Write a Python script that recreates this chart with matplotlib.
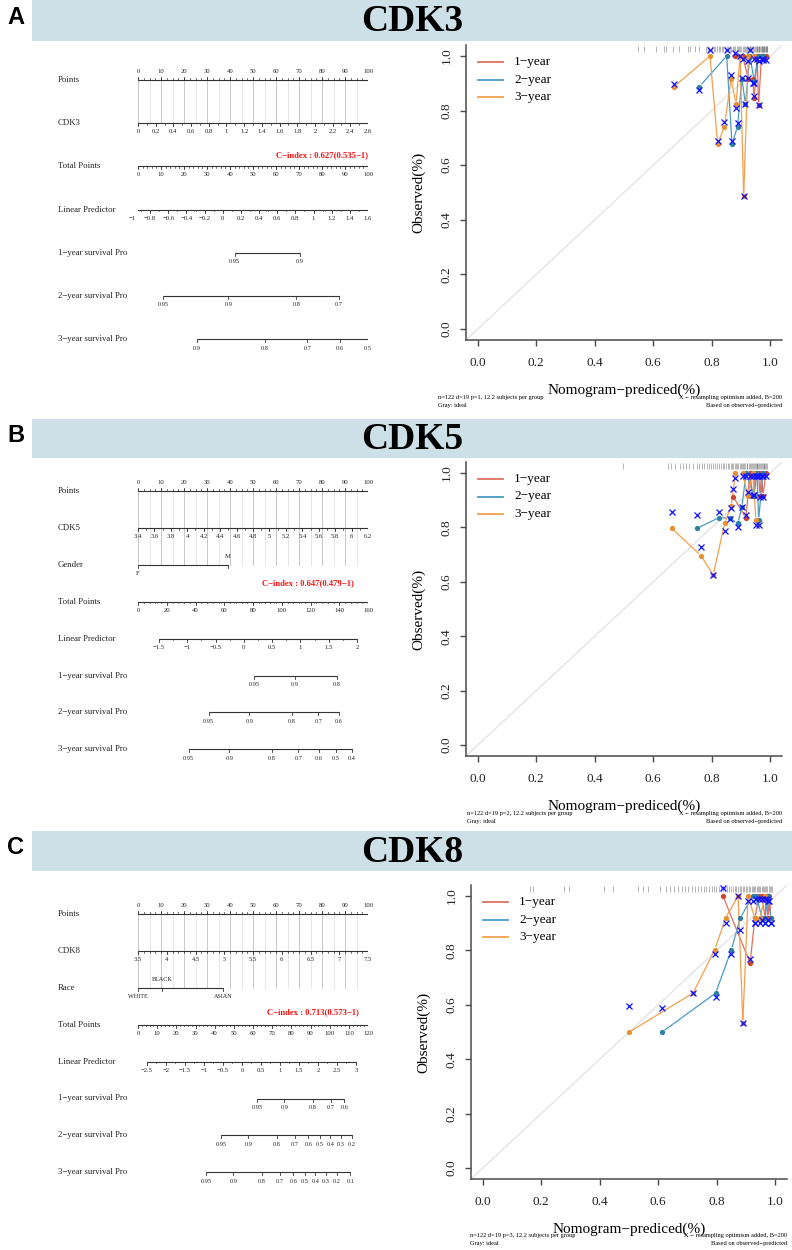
import numpy as np
import matplotlib.pyplot as plt
from matplotlib.lines import Line2D
from matplotlib.patches import Rectangle
from matplotlib.transforms import blended_transform_factory

plt.rcParams['font.family'] = ['Liberation Serif', 'DejaVu Serif']

W, H = 792, 1250
MINUS = '\u2212'

# ---------------- nomogram data ----------------
panel_letters = ['A', 'B', 'C']
genes = ['CDK3', 'CDK5', 'CDK8']
gene_range = [(0.0, 2.6), (3.4, 6.2), (3.5, 7.5)]
gene_label_step = [0.2, 0.2, 0.5]
gene_minor_step = [0.1, 0.1, 0.1]
c_index = ['C\u2212index : 0.627(0.535\u22121)',
           'C\u2212index : 0.647(0.479\u22121)',
           'C\u2212index : 0.713(0.573\u22121)']

gender_levels = ['F', 'M']
gender_points = [0.0, 39.1]
race_levels = ['WHITE', 'BLACK', 'ASIAN']
race_points = [0.0, 10.4, 37.0]

total_max = [100, 160, 120]
total_label_step = [10, 20, 10]
total_minor_step = [2, 4, 2]
# linear predictor at 0 and at max total points
lp_span = [(-0.934, 1.600), (-1.871, 2.196), (-2.737, 3.318)]
lp_lims = [(-1.0, 1.6), (-1.5, 2.0), (-2.5, 3.0)]
lp_label_step = [0.2, 0.5, 0.5]
lp_minor_step = [0.1, 0.25, 0.25]
# baseline survival for 1, 2, 3 years
base_surv = [(0.956, 0.9056, 0.869), (0.958, 0.909, 0.873), (0.966, 0.9147, 0.876)]
surv_ticks = [
    ([0.95, 0.9], [0.95, 0.9, 0.8, 0.7], [0.9, 0.8, 0.7, 0.6, 0.5]),
    ([0.95, 0.9, 0.8], [0.95, 0.9, 0.8, 0.7, 0.6], [0.95, 0.9, 0.8, 0.7, 0.6, 0.5, 0.4]),
    ([0.95, 0.9, 0.8, 0.7, 0.6], [0.95, 0.9, 0.8, 0.7, 0.6, 0.5, 0.4, 0.3, 0.2],
     [0.95, 0.9, 0.8, 0.7, 0.6, 0.5, 0.4, 0.3, 0.2, 0.1]),
]
years = ['1\u2212year', '2\u2212year', '3\u2212year']

# ---------------- calibration data ----------------
# per panel: (pred, observed, bias corrected) for 1, 2, 3 years
calA = [
    ([0.880, 0.905, 0.925, 0.940, 0.945, 0.955, 0.960, 0.970, 0.975, 0.985],
     [1.000, 1.000, 0.916, 0.916, 0.845, 1.000, 0.820, 1.000, 1.000, 1.000],
     [1.010, 0.990, 0.920, 0.900, 0.855, 0.990, 0.820, 0.990, 0.985, 0.985]),
    ([0.758, 0.851, 0.869, 0.888, 0.903, 0.915, 0.930, 0.945, 0.960, 0.975],
     [0.888, 1.000, 0.678, 0.741, 0.916, 0.824, 1.000, 0.910, 1.000, 1.000],
     [0.875, 1.020, 0.690, 0.755, 0.920, 0.824, 1.020, 0.900, 0.980, 0.990]),
    ([0.672, 0.794, 0.820, 0.843, 0.866, 0.883, 0.897, 0.909, 0.925, 0.945],
     [0.888, 1.000, 0.678, 0.741, 0.916, 0.824, 1.000, 0.487, 1.000, 1.000],
     [0.897, 1.020, 0.690, 0.758, 0.930, 0.810, 1.000, 0.487, 0.980, 0.990]),
]
calB = [
    ([0.874, 0.917, 0.930, 0.940, 0.950, 0.960, 0.965, 0.970, 0.975, 0.985],
     [0.911, 0.834, 1.000, 0.916, 1.000, 1.000, 0.916, 1.000, 0.916, 1.000],
     [0.940, 0.846, 0.990, 0.920, 0.990, 0.990, 0.910, 0.990, 0.910, 0.990]),
    ([0.749, 0.826, 0.861, 0.889, 0.903, 0.917, 0.944, 0.955, 0.960, 0.975],
     [0.796, 0.836, 0.833, 0.815, 0.874, 1.000, 0.916, 1.000, 0.828, 1.000],
     [0.846, 0.857, 0.830, 0.800, 0.874, 0.990, 0.920, 0.990, 0.810, 0.990]),
    ([0.664, 0.763, 0.805, 0.844, 0.866, 0.881, 0.905, 0.923, 0.940, 0.951],
     [0.796, 0.696, 0.625, 0.815, 0.877, 1.000, 1.000, 0.916, 1.000, 0.828],
     [0.857, 0.726, 0.625, 0.785, 0.870, 0.980, 0.990, 0.930, 0.990, 0.810]),
]
calC = [
    ([0.821, 0.914, 0.930, 0.945, 0.955, 0.965, 0.970, 0.975, 0.980, 0.985],
     [1.000, 0.753, 0.918, 1.000, 1.000, 0.918, 1.000, 0.918, 1.000, 0.918],
     [1.030, 0.768, 0.900, 0.990, 0.990, 0.900, 0.990, 0.910, 0.980, 0.900]),
    ([0.613, 0.796, 0.850, 0.880, 0.923, 0.935, 0.955, 0.965, 0.975, 0.985],
     [0.500, 0.643, 0.802, 0.918, 1.000, 1.000, 0.918, 0.918, 1.000, 0.918],
     [0.589, 0.630, 0.788, 0.875, 0.980, 0.990, 0.910, 0.900, 0.980, 0.900]),
    ([0.501, 0.719, 0.793, 0.830, 0.873, 0.889, 0.907, 0.930, 0.947, 0.966],
     [0.500, 0.643, 0.802, 0.918, 1.000, 0.534, 1.000, 0.918, 0.918, 1.000],
     [0.595, 0.643, 0.788, 0.900, 1.000, 0.534, 0.980, 0.900, 0.900, 0.990]),
]
rugA = [0.547, 0.570, 0.610, 0.638, 0.645, 0.667, 0.689, 0.718, 0.724, 0.741, 0.758,
        0.780, 0.786, 0.792, 0.800, 0.806, 0.812, 0.818, 0.823, 0.829, 0.835, 0.840,
        0.846, 0.851, 0.856, 0.861, 0.866, 0.871, 0.876, 0.880, 0.885, 0.889, 0.893,
        0.897, 0.901, 0.905, 0.909, 0.912, 0.916, 0.919, 0.923, 0.926, 0.929, 0.932,
        0.935, 0.938, 0.941, 0.944, 0.947, 0.950, 0.953, 0.955, 0.958, 0.960, 0.963,
        0.965, 0.968, 0.970, 0.972, 0.974, 0.976, 0.978, 0.980, 0.982, 0.984, 0.986,
        0.988, 0.990]
rugB = [0.496, 0.650, 0.662, 0.675, 0.690, 0.700, 0.712, 0.722, 0.735, 0.748, 0.757,
        0.766, 0.775, 0.782, 0.790, 0.797, 0.804, 0.811, 0.818, 0.825, 0.831, 0.837,
        0.843, 0.849, 0.854, 0.859, 0.864, 0.869, 0.874, 0.879, 0.883, 0.887, 0.891,
        0.895, 0.899, 0.903, 0.907, 0.911, 0.915, 0.919, 0.922, 0.926, 0.930, 0.933,
        0.937, 0.940, 0.944, 0.947, 0.950, 0.953, 0.956, 0.959, 0.962, 0.965, 0.968,
        0.971, 0.974, 0.977, 0.980, 0.983, 0.986, 0.989]
rugC = [0.163, 0.172, 0.277, 0.294, 0.413, 0.447, 0.532, 0.549, 0.566, 0.605, 0.625,
        0.640, 0.655, 0.668, 0.680, 0.692, 0.703, 0.714, 0.725, 0.735, 0.745, 0.755,
        0.764, 0.773, 0.782, 0.790, 0.798, 0.806, 0.814, 0.821, 0.828, 0.835, 0.842,
        0.849, 0.855, 0.861, 0.867, 0.873, 0.879, 0.884, 0.889, 0.894, 0.899, 0.904,
        0.909, 0.914, 0.919, 0.923, 0.928, 0.932, 0.937, 0.941, 0.945, 0.949, 0.953,
        0.957, 0.961, 0.965, 0.969, 0.973, 0.977, 0.981, 0.985, 0.989]
n_text = ['n=122 d=19 p=1, 12.2 subjects per group',
          'n=122 d=19 p=2, 12.2 subjects per group',
          'n=122 d=19 p=3, 12.2 subjects per group']

line_cols = ['#E0705E', '#4A9CC4', '#F2A04E']
dot_cols = ['#C9452F', '#2F7FA3', '#E8902F']

fig = plt.figure(figsize=(W / 100, H / 100), dpi=100)


def fx(x):
    return x / W


def fy(y):
    return 1 - y / H


def axes_px(x0, y0, x1, y1):
    return fig.add_axes([fx(x0), fy(y1), (x1 - x0) / W, (y1 - y0) / H])


def fmt(v):
    return f'{round(v, 4):g}'.replace('-', MINUS)


def frange(lo, hi, step):
    n = int(round((hi - lo) / step))
    return [lo + i * step for i in range(n + 1)]


def scale_row(ax, y, pos, labels, minor=(), up=False, fs=4.8, off=8.5, lab_up=None):
    col = '#333333'
    ax.plot([min(pos), max(pos)], [y, y], color=col, lw=0.8, solid_capstyle='butt')
    d = -1 if up else 1
    for p in pos:
        ax.plot([p, p], [y, y + 3 * d], color=col, lw=0.6)
    for p in minor:
        ax.plot([p, p], [y, y + 1.6 * d], color=col, lw=0.5)
    for i, (p, lab) in enumerate(zip(pos, labels)):
        dd = d
        if lab_up is not None:
            dd = -1 if lab_up[i] else 1
        ax.text(p, y + off * dd, lab, ha='center', va='center', fontsize=fs, color='#222222')


def header(top, bottom, letter, title):
    fig.add_artist(Rectangle((fx(32), fy(bottom)), (792 - 32) / W, (bottom - top) / H,
                             transform=fig.transFigure, color='#CDE0E7', lw=0))
    fig.text(fx(16), fy((top + bottom) / 2 - 3), letter, ha='center', va='center',
             fontsize=17, fontweight='bold', family=['Liberation Sans', 'DejaVu Sans'])
    fig.text(fx(412), fy((top + bottom) / 2 + 1), title, ha='center', va='center',
             fontsize=27, fontweight='bold')


def nomogram(k, top, step, extra, cidx_xy):
    rows = ['Points', genes[k]] + extra + ['Total Points', 'Linear Predictor',
                                          '1\u2212year survival Pro', '2\u2212year survival Pro',
                                          '3\u2212year survival Pro']
    ys = [top + i * step for i in range(len(rows))]
    ax = axes_px(138, top - 25, 368, ys[-1] + 25)
    ax.set_xlim(0, 100)
    ax.set_ylim(ys[-1] + 25, top - 25)
    ax.axis('off')
    tr = blended_transform_factory(fig.transFigure, ax.transData)
    for name, y in zip(rows, ys):
        ax.text(fx(58), y, name, transform=tr, ha='left', va='center', fontsize=6.3,
                color='#222222')

    # grid from Points down to last predictor row
    g_bottom = ys[1 + len(extra)]
    for p in frange(0, 100, 5):
        c = '#C8C8C8' if p % 10 == 0 else '#E6E6E6'
        ax.plot([p, p], [ys[0], g_bottom], color=c, lw=0.7, zorder=0)

    # Points
    scale_row(ax, ys[0], frange(0, 100, 10), [fmt(v) for v in frange(0, 100, 10)],
              minor=frange(0, 100, 2.5), up=True)
    # gene
    lo, hi = gene_range[k]
    gv = frange(lo, hi, gene_label_step[k])
    gm = frange(lo, hi, gene_minor_step[k])
    scale_row(ax, ys[1], [(v - lo) / (hi - lo) * 100 for v in gv], [fmt(v) for v in gv],
              minor=[(v - lo) / (hi - lo) * 100 for v in gm])
    # categorical rows
    if k == 1:
        scale_row(ax, ys[2], gender_points, gender_levels, lab_up=[False, True])
    if k == 2:
        scale_row(ax, ys[2], race_points, race_levels, lab_up=[False, True, False], fs=4.4)
    r = 2 + len(extra)
    # total points
    tm = total_max[k]
    tv = frange(0, tm, total_label_step[k])
    scale_row(ax, ys[r], [v / tm * 100 for v in tv], [fmt(v) for v in tv],
              minor=[v / tm * 100 for v in frange(0, tm, total_minor_step[k])])
    ax.text(cidx_xy[0], ys[r] - cidx_xy[1], c_index[k], ha='right', va='center',
            fontsize=6.2, fontweight='bold', color='#FF1010')
    # linear predictor
    s0, s1 = lp_span[k]
    lv = frange(lp_lims[k][0], lp_lims[k][1], lp_label_step[k])
    lm = frange(lp_lims[k][0], lp_lims[k][1], lp_minor_step[k])
    scale_row(ax, ys[r + 1], [(v - s0) / (s1 - s0) * 100 for v in lv], [fmt(v) for v in lv],
              minor=[(v - s0) / (s1 - s0) * 100 for v in lm])
    # survival
    for j in range(3):
        sv = np.array(surv_ticks[k][j])
        lp = np.log(np.log(sv) / np.log(base_surv[k][j]))
        scale_row(ax, ys[r + 2 + j], list((lp - s0) / (s1 - s0) * 100), [fmt(v) for v in sv],
                  fs=4.5, off=9)


def gapped(ax, xs, ys, gap, **kw):
    # R type="b": segments stop short of the points
    pts = ax.transData.transform(np.column_stack([xs, ys]))
    inv = ax.transData.inverted()
    for a, b in zip(pts[:-1], pts[1:]):
        v = b - a
        d = np.hypot(*v)
        if d <= 2 * gap:
            continue
        u = v / d
        seg = inv.transform(np.array([a + u * gap, b - u * gap]))
        ax.plot(seg[:, 0], seg[:, 1], **kw)


def calibration(k, box, cal, rug, leg_x):
    x0, y0, x1, y1 = box
    ax = axes_px(x0, y0, x1, y1)
    ax.set_xlim(-0.04, 1.04)
    ax.set_ylim(-0.04, 1.04)
    ax.axline((0, 0), (1, 1), color='#E4E4E4', lw=1, zorder=0)
    ax.vlines(rug, 1.015, 1.038, color='#444444', lw=0.5, alpha=0.55)
    for j in range(3):
        pred, obs, corr = cal[j]
        gapped(ax, pred, obs, 3.5, color=line_cols[j], lw=0.9, zorder=2)
    for j in range(3):
        pred, obs, corr = cal[j]
        ax.plot(pred, obs, 'o', color=dot_cols[j], ms=3.8, mew=0, zorder=3)
        ax.plot(pred, corr, 'x', color='#1010FF', ms=4.2, mew=0.9, zorder=4)
    for s in ['top', 'right']:
        ax.spines[s].set_visible(False)
    for s in ['left', 'bottom']:
        ax.spines[s].set_color('#4A4A4A')
        ax.spines[s].set_linewidth(1.1)
    t = frange(0, 1, 0.2)
    ax.set_xticks(t)
    ax.set_yticks(t)
    ax.set_xticklabels([f'{v:.1f}' for v in t])
    ax.set_yticklabels([f'{v:.1f}' for v in t], rotation=90, va='center')
    ax.tick_params(axis='both', direction='out', length=4.5, width=1, color='#4A4A4A',
                   labelsize=9.5, labelcolor='#222222')
    ax.tick_params(axis='x', pad=8)
    ax.tick_params(axis='y', pad=5)
    ax.patch.set_alpha(0)
    cx = (x0 + x1) / 2
    fig.text(fx(cx), fy(y1 + 50), 'Nomogram\u2212prediced(%)', ha='center', va='center',
             fontsize=11)
    fig.text(fx(x0 - 47), fy((y0 + y1) / 2), 'Observed(%)', ha='center', va='center',
             rotation=90, fontsize=11)
    fig.text(fx(leg_x), fy(y1 + 57), n_text[k], ha='left', va='center', fontsize=4.6)
    fig.text(fx(leg_x), fy(y1 + 65), 'Gray: ideal', ha='left', va='center', fontsize=4.6)
    fig.text(fx(x1), fy(y1 + 57), 'X \u2212 resampling optimism added, B=200', ha='right',
             va='center', fontsize=4.6)
    fig.text(fx(x1), fy(y1 + 65), 'Based on observed\u2212predicted', ha='right',
             va='center', fontsize=4.6)
    for j in range(3):
        yy = y0 + 17 + j * 17.5
        fig.add_artist(Line2D([fx(x0 + 12), fx(x0 + 37)], [fy(yy), fy(yy)],
                              color=line_cols[j], lw=1.3))
        fig.text(fx(x0 + 48), fy(yy), years[j], ha='left', va='center', fontsize=9.5)


header(0, 41, 'A', 'CDK3')
header(419, 458, 'B', 'CDK5')
header(831, 871, 'C', 'CDK8')

nomogram(0, 80, 43.2, [], (100, 11))
nomogram(1, 491, 36.9, ['Gender'], (93.9, 19))
nomogram(2, 914, 36.9, ['Race'], (96.1, 13))

calibration(0, (466, 45, 782, 340), calA, rugA, 438)
calibration(1, (466, 462, 782, 756), calB, rugB, 467)
calibration(2, (471, 885, 787, 1179), calC, rugC, 470)

fig.savefig('out.png', dpi=100)
